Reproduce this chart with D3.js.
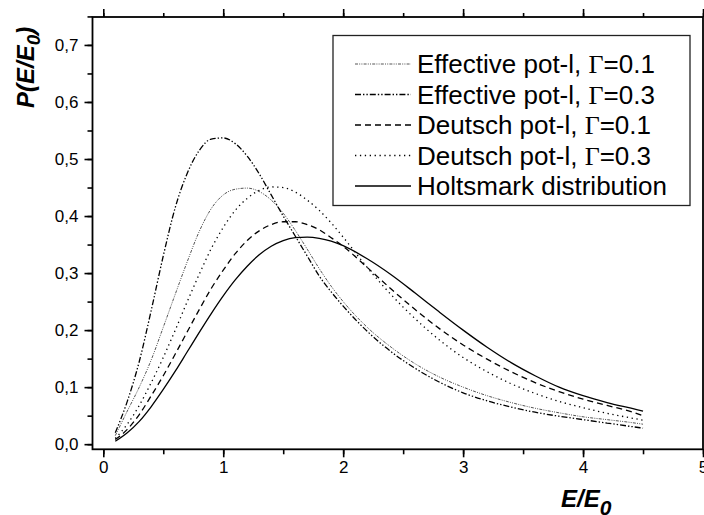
<!DOCTYPE html>
<meta charset="utf-8">
<script src="https://d3js.org/d3.v7.min.js"></script>
<style>
  body { margin: 0; background: #fff; }
  text { font-family: "Liberation Sans", Arial, sans-serif; }
</style>
<div id="my_dataviz"></div>
<script>

// E/E0 grid the curves were read at
var eValues = [0.1,0.2,0.3,0.4,0.5,0.6,0.7,0.8,0.9,1.0,1.1,1.2,1.3,1.4,1.5,1.6,1.7,1.8,1.9,2.0,
               2.2,2.4,2.6,2.8,3.0,3.2,3.4,3.6,3.8,4.0,4.2,4.4,4.5];

var effective01 = [0.015,0.058,0.1,0.148,0.205,0.263,0.32,0.373,0.413,0.437,0.447,0.449,0.443,0.428,0.405,0.375,0.342,0.308,0.277,0.25,
                   0.205,0.17,0.141,0.118,0.1,0.085,0.073,0.063,0.055,0.048,0.043,0.038,0.035];
var effective03 = [0.02,0.075,0.145,0.235,0.33,0.415,0.475,0.515,0.535,0.537,0.527,0.505,0.474,0.437,0.4,0.365,0.33,0.295,0.267,0.242,
                   0.198,0.162,0.133,0.109,0.09,0.076,0.065,0.056,0.049,0.043,0.037,0.031,0.028];
var deutsch01   = [0.008,0.026,0.052,0.085,0.12,0.158,0.197,0.236,0.273,0.305,0.334,0.357,0.374,0.385,0.39,0.39,0.385,0.376,0.362,0.347,
                   0.31,0.272,0.236,0.203,0.174,0.149,0.127,0.108,0.092,0.079,0.068,0.057,0.05];
var deutsch03   = [0.01,0.035,0.068,0.108,0.152,0.2,0.25,0.298,0.343,0.38,0.41,0.431,0.445,0.451,0.45,0.442,0.428,0.41,0.388,0.363,
                   0.31,0.262,0.22,0.183,0.152,0.127,0.106,0.089,0.075,0.064,0.054,0.046,0.042];
var holtsmark   = [0.005,0.02,0.04,0.066,0.096,0.128,0.162,0.196,0.229,0.26,0.288,0.312,0.332,0.347,0.357,0.362,0.363,0.361,0.356,0.348,
                   0.325,0.297,0.265,0.232,0.2,0.17,0.143,0.12,0.1,0.085,0.073,0.063,0.058];

var seriesNames = ["Effective pot-l, ", "Effective pot-l, ", "Deutsch pot-l, ", "Deutsch pot-l, ", "Holtsmark distribution"];
var gammaLabels = ["=0.1", "=0.3", "=0.1", "=0.3", null];
var xTicks = [0, 1, 2, 3, 4, 5];
var yTicks = [0.0, 0.1, 0.2, 0.3, 0.4, 0.5, 0.6, 0.7];

var series = [effective01, effective03, deutsch01, deutsch03, holtsmark];
var dashes = ["3,1.2,1,1.2,1,1.2", "6,2,1.4,2,1.4,2", "6,4", "1.3,3.6", null];
var widths = [1.0, 1.3, 1.3, 1.3, 1.3];
var strokes = ["#555", "#000", "#000", "#000", "#000"];

var width = 704, height = 515;

var svg = d3.select("#my_dataviz")
  .append("svg")
    .attr("width", width)
    .attr("height", height);

var x = d3.scaleLinear().domain([-0.09, 5]).range([92.5, 703]);
var y = d3.scaleLinear().domain([-0.009, 0.749]).range([449.3, 17]);

var comma = function(d) { return d3.format(".1f")(d).replace(".", ","); };

// minor ticks
var xMinor = d3.range(0, 5.01, 0.5), yMinor = d3.range(0, 0.751, 0.05);

function frameAxis(axis, tr, vals, size) {
  var g = svg.append("g").attr("transform", tr)
    .call(axis.tickValues(vals).tickSize(size).tickSizeOuter(0).tickFormat(""));
  g.select(".domain").remove();
  g.selectAll("line").attr("stroke", "#000").attr("stroke-width", 1.6);
  return g;
}
frameAxis(d3.axisBottom(x), "translate(0,449.3)", xMinor, 5);
frameAxis(d3.axisBottom(x), "translate(0,449.3)", xTicks, 8);
frameAxis(d3.axisTop(x), "translate(0,17)", xMinor, 4);
frameAxis(d3.axisTop(x), "translate(0,17)", xTicks, 8);
frameAxis(d3.axisLeft(y), "translate(92.5,0)", yMinor, 5);
frameAxis(d3.axisLeft(y), "translate(92.5,0)", yTicks, 8);

// X tick labels
svg.append("g")
  .attr("transform", "translate(0,449.3)")
  .call(d3.axisBottom(x).tickValues(xTicks).tickSize(0).tickPadding(12).tickFormat(d3.format("d")))
  .call(function(g) { g.select(".domain").remove(); })
  .selectAll("text")
    .attr("font-size", "17px")
    .attr("fill", "#000")
    .style("font-family", "Liberation Sans, Arial, sans-serif");

// Y tick labels
svg.append("g")
  .attr("transform", "translate(92.5,0)")
  .call(d3.axisLeft(y).tickValues(yTicks).tickSize(0).tickPadding(14).tickFormat(comma))
  .call(function(g) { g.select(".domain").remove(); })
  .selectAll("text")
    .attr("font-size", "17px")
    .attr("fill", "#000")
    .style("font-family", "Liberation Sans, Arial, sans-serif");

// frame
svg.append("rect")
  .attr("x", 92.5).attr("y", 17)
  .attr("width", 703 - 92.5).attr("height", 449.3 - 17)
  .attr("fill", "none").attr("stroke", "#000").attr("stroke-width", 1.8);

// curves
var line = d3.line()
  .x(function(d, i) { return x(eValues[i]); })
  .y(function(d) { return y(d); })
  .curve(d3.curveMonotoneX);

series.forEach(function(s, k) {
  svg.append("path")
    .datum(s)
    .attr("fill", "none")
    .attr("stroke", strokes[k])
    .attr("stroke-width", widths[k])
    .attr("stroke-dasharray", dashes[k])
    .attr("d", line);
});

// legend
var legend = svg.append("g");
legend.append("rect")
  .attr("x", 333).attr("y", 35.5).attr("width", 357).attr("height", 170)
  .attr("fill", "#fff").attr("stroke", "#222").attr("stroke-width", 1.3);

seriesNames.forEach(function(name, k) {
  var ry = 64 + k * 30.5;
  legend.append("line")
    .attr("x1", 355).attr("x2", 411).attr("y1", ry).attr("y2", ry)
    .attr("stroke", strokes[k]).attr("stroke-width", widths[k])
    .attr("stroke-dasharray", dashes[k]);
  var t = legend.append("text")
    .attr("x", 417).attr("y", ry + 9)
    .attr("font-size", "26px")
    .text(name);
  if (gammaLabels[k]) {
    t.append("tspan").style("font-family", "Liberation Serif, serif").text("\u0393");
    t.append("tspan").text(gammaLabels[k]);
  }
});

// Y axis label
var yl = svg.append("text")
  .attr("transform", "translate(34,108) rotate(-90)")
  .attr("font-size", "24px")
  .attr("font-weight", "bold")
  .attr("font-style", "italic")
  .text("P(E/E");
yl.append("tspan").attr("font-size", "19px").attr("dy", 6).text("0");
yl.append("tspan").attr("dy", -6).text(")");

// X axis label
var xl = svg.append("text")
  .attr("x", 561).attr("y", 507)
  .attr("font-size", "24px")
  .attr("font-weight", "bold")
  .attr("font-style", "italic")
  .text("E/E");
xl.append("tspan").attr("font-size", "21px").attr("dy", 8).text("0");

</script>
